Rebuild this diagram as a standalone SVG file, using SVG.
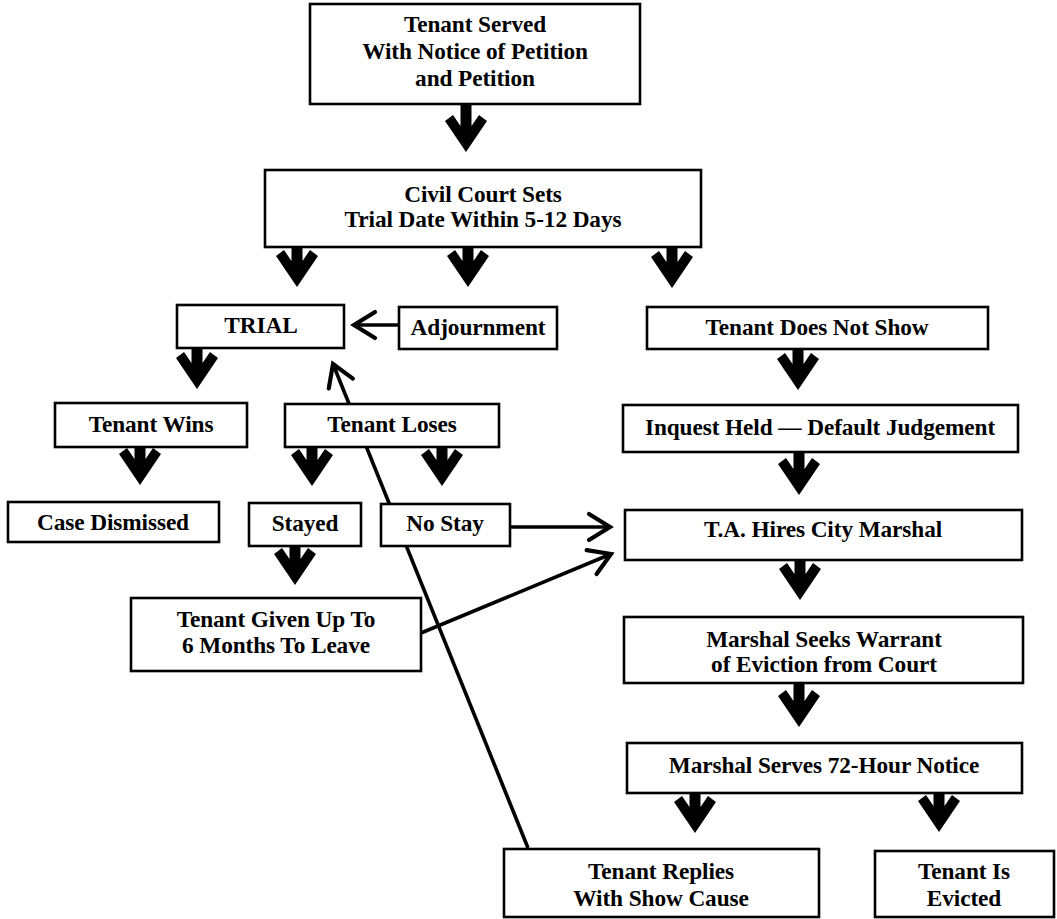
<svg xmlns="http://www.w3.org/2000/svg" xmlns:xlink="http://www.w3.org/1999/xlink" width="1057" height="919" viewBox="0 0 1057 919">
<style>
.box{fill:#fff;stroke:#000;stroke-width:2.6}
.t{font-family:"Liberation Serif","Times New Roman",serif;font-weight:bold;font-size:23.3px;fill:#000;text-anchor:middle;letter-spacing:-0.1px}
.thin{fill:none;stroke:#000;stroke-width:3.6;marker-end:url(#open)}
.thick{fill:#000}
</style>
<defs>
<marker id="open" markerUnits="userSpaceOnUse" markerWidth="40" markerHeight="40" viewBox="-30 -20 40 40" refX="0" refY="0" orient="auto">
<path d="M-21,-13 L0,0 L-21,13" fill="none" stroke="#000" stroke-width="4.2" stroke-linejoin="miter" stroke-linecap="round"/>
</marker>
<path id="ta" d="M-5.5,-58 L5.5,-58 L5.5,-26 L13,-37 L21,-31 L0,0 L-21,-31 L-13,-37 L-5.5,-26 Z"/>
</defs>
<rect width="1057" height="919" fill="#fff"/>
<g id="connectors">
<line class="thin" x1="528" y1="848" x2="333" y2="364"/>
<line class="thin" x1="399" y1="325" x2="354" y2="325"/>
<line class="thin" x1="510" y1="527" x2="610" y2="527"/>
<line class="thin" x1="421" y1="633" x2="611" y2="554"/>
<use class="thick" xlink:href="#ta" x="466" y="152"/>
<use class="thick" xlink:href="#ta" x="297" y="287"/>
<use class="thick" xlink:href="#ta" x="468" y="287"/>
<use class="thick" xlink:href="#ta" x="672" y="288"/>
<use class="thick" xlink:href="#ta" x="197" y="389"/>
<use class="thick" xlink:href="#ta" x="140" y="485"/>
<use class="thick" xlink:href="#ta" x="312" y="486"/>
<use class="thick" xlink:href="#ta" x="442" y="486"/>
<use class="thick" xlink:href="#ta" x="295" y="585"/>
<use class="thick" xlink:href="#ta" x="798" y="390"/>
<use class="thick" xlink:href="#ta" x="799" y="495"/>
<use class="thick" xlink:href="#ta" x="800" y="600"/>
<use class="thick" xlink:href="#ta" x="799" y="727"/>
<use class="thick" xlink:href="#ta" x="695" y="833"/>
<use class="thick" xlink:href="#ta" x="939" y="832"/>
</g>
<g id="served"><rect class="box" x="310" y="4" width="330" height="100"/>
<text class="t" x="475" y="32">Tenant Served</text><text class="t" x="475" y="59">With Notice of Petition</text><text class="t" x="475" y="86">and Petition</text></g>
<g id="civil"><rect class="box" x="265" y="170" width="436" height="77"/>
<text class="t" x="483" y="202">Civil Court Sets</text><text class="t" x="483" y="227">Trial Date Within 5-12 Days</text></g>
<g id="trial"><rect class="box" x="177" y="305" width="167" height="43"/><text class="t" x="261" y="333">TRIAL</text></g>
<g id="adjournment"><rect class="box" x="399" y="307" width="158" height="42"/><text class="t" x="478" y="335">Adjournment</text></g>
<g id="noshow"><rect class="box" x="647" y="307" width="341" height="42"/><text class="t" x="817" y="335">Tenant Does Not Show</text></g>
<g id="wins"><rect class="box" x="55" y="403" width="192" height="44"/><text class="t" x="151" y="432">Tenant Wins</text></g>
<g id="loses"><rect class="box" x="285" y="404" width="214" height="43"/><text class="t" x="392" y="432">Tenant Loses</text></g>
<g id="inquest"><rect class="box" x="623" y="405" width="395" height="47"/><text class="t" x="820" y="435">Inquest Held — Default Judgement</text></g>
<g id="dismissed"><rect class="box" x="8" y="502" width="211" height="40"/><text class="t" x="113" y="530">Case Dismissed</text></g>
<g id="stayed"><rect class="box" x="249" y="503" width="112" height="43"/><text class="t" x="305" y="531">Stayed</text></g>
<g id="nostay"><rect class="box" x="381" y="504" width="129" height="42"/><text class="t" x="445" y="531">No Stay</text></g>
<g id="hires"><rect class="box" x="625" y="510" width="397" height="50"/><text class="t" x="823" y="537">T.A. Hires City Marshal</text></g>
<g id="given"><rect class="box" x="131" y="598" width="290" height="73"/>
<text class="t" x="276" y="627">Tenant Given Up To</text><text class="t" x="276" y="653">6 Months To Leave</text></g>
<g id="warrant"><rect class="box" x="624" y="617" width="399" height="66"/>
<text class="t" x="824" y="647">Marshal Seeks Warrant</text><text class="t" x="824" y="672">of Eviction from Court</text></g>
<g id="notice72"><rect class="box" x="627" y="743" width="395" height="50"/><text class="t" x="824" y="773">Marshal Serves 72-Hour Notice</text></g>
<g id="replies"><rect class="box" x="504" y="849" width="315" height="68"/>
<text class="t" x="661" y="879">Tenant Replies</text><text class="t" x="661" y="906">With Show Cause</text></g>
<g id="evicted"><rect class="box" x="875" y="851" width="179" height="66"/>
<text class="t" x="964" y="879">Tenant Is</text><text class="t" x="964" y="906">Evicted</text></g>
</svg>
